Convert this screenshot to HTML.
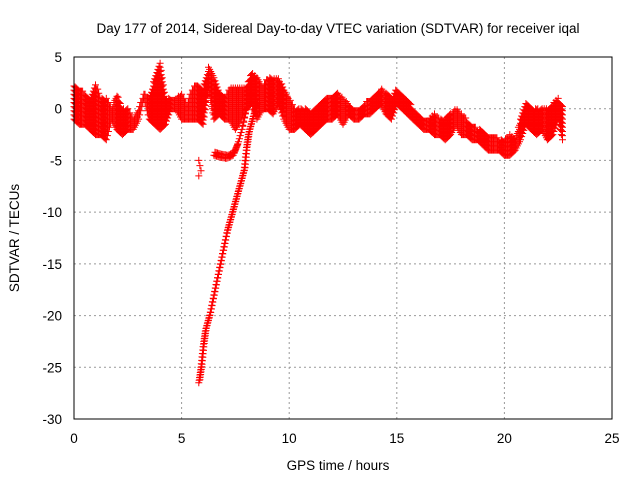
<!DOCTYPE html>
<html><head><meta charset="utf-8"><style>
body{margin:0;background:#fff;}
svg{display:block;font-family:"Liberation Sans",sans-serif;}
</style></head><body>
<svg id="chart" width="640" height="480">
<rect width="640" height="480" fill="#fff"/>
<text x="338" y="33" font-size="13.5" text-anchor="middle" fill="#000">Day 177 of 2014, Sidereal Day-to-day VTEC variation (SDTVAR) for receiver iqal</text>
<text x="338" y="470" font-size="13.5" text-anchor="middle" fill="#000">GPS time / hours</text>
<text transform="translate(19,238) rotate(-90)" font-size="13.5" text-anchor="middle" fill="#000">SDTVAR / TECUs</text>
<g id="grid"></g>
<g id="ticks"></g>
<path id="marks" fill="none" stroke="#f00" stroke-width="1"/>
<rect x="74" y="57" width="538" height="362" fill="none" stroke="#000" stroke-width="1"/>
</svg>
<script>
const xTicks=[0,5,10,15,20,25];
const yTicks=[5,0,-5,-10,-15,-20,-25,-30];
const bandT=[0,0.25,0.5,0.75,1,1.25,1.5,1.75,2,2.25,2.5,2.75,3,3.25,3.5,3.75,4,4.25,4.5,4.75,5,5.25,5.5,5.75,6,6.25,6.5,6.75,7,7.25,7.5,7.75,8,8.25,8.5,8.75,9,9.25,9.5,9.75,10,10.25,10.5,10.75,11,11.25,11.5,11.75,12,12.25,12.5,12.75,13,13.25,13.5,13.75,14,14.25,14.5,14.75,15,15.25,15.5,15.75,16,16.25,16.5,16.75,17,17.25,17.5,17.75,18,18.25,18.5,18.75,19,19.25,19.5,19.75,20,20.25,20.5,20.75,21,21.25,21.5,21.75,22,22.25,22.5,22.75];
const bandHi=[2.5,2,1.5,1,2.5,1,1,0,1.5,0,0,-1,0,1.5,1,3,4.5,1,1,1,1.5,0.5,2,2.5,2,4,3,1.5,1,2,2,2,2,3.5,3,2,3,3,3,2,1,0,0,0,-0.5,0,0.5,1,1,1.5,1,0.5,0,0,0.5,1,1.5,2,1.5,1,2,1.5,1,0,-0.5,-1,-1,-0.5,-1,-1,-0.5,0,-0.5,-1,-1.5,-2,-2,-2.5,-2.5,-3,-3,-2.5,-3,-1,0.5,0,0,0,0,0.5,1,0];
const bandLo=[-1,-1.5,-1.5,-2,-2.5,-2.5,-3,-1,-2,-2.5,-2,-2,-1,1,-1,-1.5,-2,-1.5,0,0,-1,-1,-1,-1,-1.5,2,-1,-0.5,-1,-1,-2,-1,0,0.5,-1,0,0,-0.5,0.5,-1,-2,-2,-1.5,-2,-2.5,-2,-1.5,-1,-1,-0.5,-1.5,-0.5,-1,-1,-0.5,-0.5,0,0.5,-0.5,-1,0.5,0,-0.5,-1,-1.5,-2,-2,-2.5,-2.5,-3,-2.5,-1.5,-2.5,-2.5,-3,-3,-3.5,-4,-4,-4,-4.5,-4.5,-4,-3,-1.5,-2,-2.5,-2,-3,-2.5,-1,-3.5];
const branchT=[5.8,5.9,6.0,6.1,6.3,6.5,6.7,6.9,7.1,7.3,7.5,7.7,7.9,8.0,8.1,8.3,8.5];
const branchV=[-26.5,-25,-23,-21.5,-20,-18,-16,-14,-12,-10.5,-9,-7.5,-6,-4,-2.5,-1,0.5];
const dipT=[6.5,6.8,7.1,7.4,7.6,7.8,8.0];
const dipV=[-4.5,-4.7,-4.8,-4.5,-3.5,-2,0];
const blobT=[5.8,5.8,5.85,5.9];
const blobV=[-5,-6.5,-5.5,-6];
const X=t=>74+t*538/25;
const Y=v=>57+(5-v)*362/35;
const ns='http://www.w3.org/2000/svg';
const grid=document.getElementById('grid'),tk=document.getElementById('ticks');
xTicks.forEach(t=>{
  if(t>0&&t<25){const l=document.createElementNS(ns,'line');
  l.setAttribute('x1',X(t));l.setAttribute('x2',X(t));l.setAttribute('y1',57);l.setAttribute('y2',419);
  l.setAttribute('stroke','#999');l.setAttribute('stroke-dasharray','2,3');
  
  
  grid.appendChild(l);}
  const s=document.createElementNS(ns,'text');
  s.setAttribute('x',X(t));s.setAttribute('y',443);s.setAttribute('font-size','13.5');s.setAttribute('text-anchor','middle');
  s.textContent=t;
  
  
  tk.appendChild(s);
});
yTicks.forEach(v=>{
  if(v<5&&v>-30){const l=document.createElementNS(ns,'line');
  l.setAttribute('x1',74);l.setAttribute('x2',612);l.setAttribute('y1',Y(v));l.setAttribute('y2',Y(v));
  l.setAttribute('stroke','#999');l.setAttribute('stroke-dasharray','2,3');
  
  
  grid.appendChild(l);}
  const s=document.createElementNS(ns,'text');
  s.setAttribute('x',62);s.setAttribute('y',Y(v)+5);s.setAttribute('font-size','13.5');s.setAttribute('text-anchor','end');
  s.textContent=v;
  
  
  tk.appendChild(s);
});
let d='';
const plus=(t,v)=>{const x=X(t),y=Y(v);d+=`M${(x-3.5).toFixed(1)} ${y.toFixed(1)}h7M${x.toFixed(1)} ${(y-3.5).toFixed(1)}v7`;};
for(let i=0;i<bandT.length-1;i++){
  for(let f=0;f<1;f+=0.2){
    const t=bandT[i]+f*(bandT[i+1]-bandT[i]);
    const hi=bandHi[i]+f*(bandHi[i+1]-bandHi[i]);
    const lo=bandLo[i]+f*(bandLo[i+1]-bandLo[i]);
    for(let v=lo;v<=hi+0.01;v+=0.4)plus(t,v);
  }
}
function line(ts,vs,steps){
  for(let i=0;i<ts.length-1;i++)for(let k=0;k<steps;k++){const f=k/steps;
    plus(ts[i]+f*(ts[i+1]-ts[i]),vs[i]+f*(vs[i+1]-vs[i]));
    plus(ts[i]+f*(ts[i+1]-ts[i])+0.05,vs[i]+f*(vs[i+1]-vs[i])+0.3);}
}
line(branchT,branchV,6);
line(dipT,dipV,5);
blobT.forEach((t,i)=>plus(t,blobV[i]));
document.getElementById('marks').setAttribute('d',d);
</script>
</body></html>
